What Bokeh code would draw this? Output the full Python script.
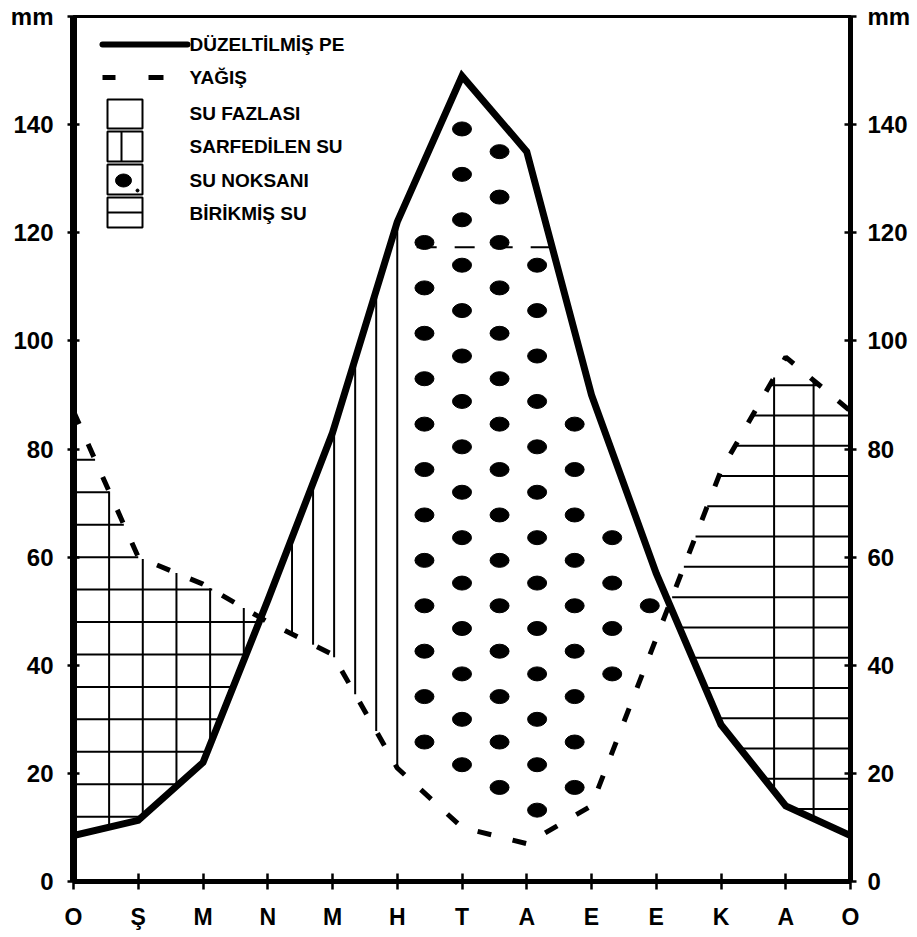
import numpy as np
from bokeh.plotting import figure
from bokeh.models import FixedTicker, LinearAxis, Range1d
from bokeh.core.properties import value
from bokeh.embed import file_html
from bokeh.resources import INLINE

# ---------------- data ----------------
months = ["O", "Ş", "M", "N", "M", "H", "T", "A", "E", "E", "K", "A", "O"]
month_pos = list(range(13))
pe_corrected = [8.5, 11.3, 22, 52, 83, 122, 149, 135, 90, 57, 29, 14, 8.5]
precipitation = [87, 60, 55, 48, 42, 21, 10, 7, 14, 45, 76, 97, 87]
y_ticks = [0, 20, 40, 60, 80, 100, 120, 140, 160]
y_top_label = "mm"
legend_labels = ["DÜZELTİLMİŞ PE", "YAĞIŞ", "SU FAZLASI", "SARFEDİLEN SU",
                 "SU NOKSANI", "BİRİKMİŞ SU"]
capacity_mark = 117.3

# ---------------- layout ----------------
W, H = 917, 937
BL, BR, BT, BB = 73, 67, 16, 56
FW, FH = W - BL - BR, H - BT - BB
X0, X1, Y0, Y1 = 0, 12, 0, 160


def dx(px):
    return X0 + (px - BL) / FW * (X1 - X0)


def dy(py):
    return Y0 + (H - BB - py) / FH * (Y1 - Y0)


FONT = "Liberation Sans"

p = figure(width=W, height=H, x_range=Range1d(X0, X1), y_range=Range1d(Y0, Y1),
           output_backend="svg", toolbar_location=None,
           min_border_left=BL, min_border_right=BR, min_border_top=BT,
           min_border_bottom=BB)
p.grid.visible = False
p.outline_line_color = "black"
p.outline_line_width = 3
p.background_fill_color = "white"
p.border_fill_color = "white"


def style_axis(ax, line_w, tick, standoff, size):
    ax.axis_line_width = line_w
    ax.axis_line_color = "black"
    ax.major_tick_in = tick
    ax.major_tick_out = tick
    ax.major_tick_line_width = 2.5
    ax.major_tick_line_color = "black"
    ax.minor_tick_line_color = None
    ax.major_label_text_font = FONT
    ax.major_label_text_font_style = "bold"
    ax.major_label_text_font_size = size
    ax.major_label_text_color = "black"
    ax.major_label_standoff = standoff


# left axis
yax = p.yaxis[0]
yax.ticker = FixedTicker(ticks=y_ticks)
yax.major_label_overrides = {y_ticks[-1]: y_top_label}
style_axis(yax, 7, 6, 14, "24px")

# right axis
yr = LinearAxis(ticker=FixedTicker(ticks=y_ticks),
                major_label_overrides={y_ticks[-1]: y_top_label})
style_axis(yr, 5, 6, 11, "24px")
p.add_layout(yr, "right")

# bottom axis
xax = p.xaxis[0]
xax.ticker = FixedTicker(ticks=month_pos)
xax.major_label_overrides = {i: m for i, m in zip(month_pos, months)}
style_axis(xax, 5, 8, 14, "23px")

# ---------------- curves & hatching ----------------
xa = np.array(month_pos, float)
pe_a = np.array(pe_corrected, float)
pr_a = np.array(precipitation, float)


def fpe(x):
    return np.interp(x, xa, pe_a)


def fpr(x):
    return np.interp(x, xa, pr_a)


diff = pr_a - pe_a
crossings = [i + diff[i] / (diff[i] - diff[i + 1]) for i in range(12)
             if diff[i] * diff[i + 1] < 0]
xl, xr = crossings[0], crossings[-1]


def runs(level, a, b):
    xg = np.linspace(a, b, 4001)
    m = (fpe(xg) <= level) & (level <= fpr(xg))
    out, i, n = [], 0, len(xg)
    while i < n:
        if m[i]:
            j = i
            while j + 1 < n and m[j + 1]:
                j += 1
            out.append((xg[i], xg[j]))
            i = j + 1
        else:
            i += 1
    return out


sx0, sy0, sx1, sy1 = [], [], [], []


def seg(a, b, c, d):
    sx0.append(a); sy0.append(b); sx1.append(c); sy1.append(d)


# stored water (left and right): horizontal + vertical lines
for h in np.arange(12, 80, 6):
    for a, b in runs(h, 0, xl):
        seg(a, h, b, h)
for x in np.arange(0.55, xl, 0.52):
    seg(x, fpe(x), x, fpr(x))
for h in 13.4 + 5.6 * np.arange(15):
    for a, b in runs(h, xr, 12):
        seg(a, h, b, h)
for x in 12 - np.array([0.57, 1.18]):
    seg(x, fpe(x), x, fpr(x))
# utilised water: vertical lines
for x in 5.0 - 0.325 * np.arange(6):
    seg(x, fpr(x), x, fpe(x))

p.segment(sx0, sy0, sx1, sy1, line_color="black", line_width=2)

# water deficit: dots
dxs, dys = [], []
cols = np.arange(5.42, xr, 0.58)
for j, cx in enumerate(cols):
    off = 0 if j % 2 == 0 else 4.2
    for cy in np.arange(9 + off, 160, 8.4):
        ok = all(fpr(cx + e) + 3.0 < cy < fpe(cx + e) - 3.5 for e in (-0.15, 0, 0.15))
        if ok:
            dxs.append(cx); dys.append(cy)
p.ellipse(dxs, dys, width=19, height=14, width_units="screen",
          height_units="screen", fill_color="black", line_color="black")

# dashed mark inside deficit area
x_end = 7 + (pe_a[7] - capacity_mark) / (pe_a[7] - pe_a[8])
p.line([5.3, x_end], [capacity_mark, capacity_mark], line_color="black",
       line_width=2, line_dash="20 18")

# precipitation and PE
p.line(xa, pr_a, line_color="black", line_width=5, line_dash="14 22")
p.line(xa, pe_a, line_color="black", line_width=7, line_join="miter")

# ---------------- legend (hand-built) ----------------
p.line([dx(102), dx(187)], [dy(44), dy(44)], line_color="black", line_width=6,
       line_cap="round")
p.segment([dx(102), dx(148)], [dy(77)] * 2, [dx(115), dx(163)], [dy(77)] * 2,
          line_color="black", line_width=5)
box_tops = [99, 131, 164, 197]
box_bots = [128, 161, 194, 227]
p.quad(left=[dx(107)] * 4, right=[dx(142)] * 4,
       top=[dy(t) for t in box_tops], bottom=[dy(b) for b in box_bots],
       fill_color=None, line_color="black", line_width=2)
p.segment([dx(121)], [dy(131)], [dx(121)], [dy(161)], line_color="black", line_width=2)
p.segment([dx(107)], [dy(212)], [dx(142)], [dy(212)], line_color="black", line_width=2)
p.ellipse([dx(123)], [dy(180)], width=16, height=13, width_units="screen",
          height_units="screen", fill_color="black", line_color="black")
p.scatter([dx(137)], [dy(190)], size=3, color="black")
text_y = [44, 77, 113, 146, 180, 213]
p.text(x=[dx(189)] * 6, y=[dy(t) for t in text_y], text=legend_labels,
       text_font=value(FONT), text_font_style="bold",
       text_font_size=value("19px"), text_baseline="middle", text_align="left",
       text_color="black")

open("out.html", "w").write(file_html(p, INLINE))
